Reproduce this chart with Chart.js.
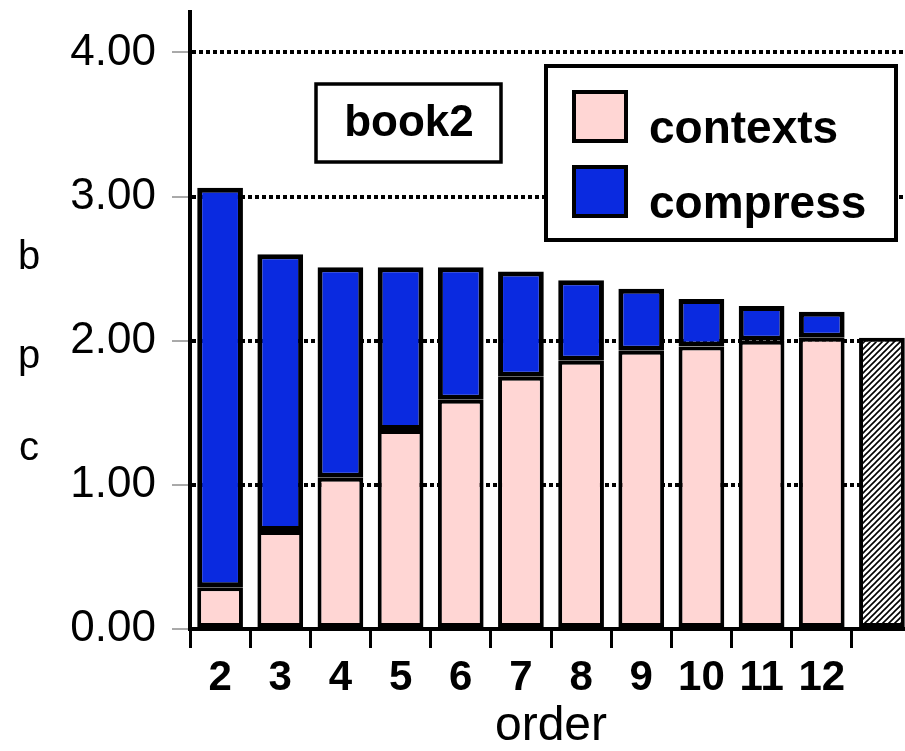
<!DOCTYPE html>
<html>
<head>
<meta charset="utf-8">
<script src="https://cdn.jsdelivr.net/npm/chart.js@4.4.1/dist/chart.umd.min.js"></script>
<style>
  html, body { margin: 0; padding: 0; background: #fff; overflow: hidden; }
  #wrap { width: 912px; height: 751px; }
</style>
</head>
<body>
<div id="wrap"><canvas id="bookChart"></canvas></div>
<script>
// data
const orders = ['2', '3', '4', '5', '6', '7', '8', '9', '10', '11', '12', ''];
const contexts = [0.29, 0.68, 1.05, 1.38, 1.59, 1.75, 1.86, 1.93, 1.96, 2.00, 2.02, null];
const compress = [2.77, 1.92, 1.46, 1.13, 0.92, 0.73, 0.56, 0.43, 0.33, 0.24, 0.18, null];
const reference = [null, null, null, null, null, null, null, null, null, null, null, 2.02];
const yTicks = [0, 1, 2, 3, 4];
const fileName = 'book2';

const pinkColor = '#ffd6d4';
const blueColor = '#0a2ae0';
const FONT = '"Liberation Sans", Arial, sans-serif';

// hatch pattern for the last bar
function makeHatch(){
	const c = document.createElement('canvas');
	c.width = 6; c.height = 6;
	const g = c.getContext('2d');
	g.fillStyle = '#fff';
	g.fillRect(0, 0, 6, 6);
	g.strokeStyle = '#000';
	g.lineWidth = 1.6;
	g.beginPath();
	g.moveTo(0, 6); g.lineTo(6, 0);
	g.moveTo(-2, 2); g.lineTo(2, -2);
	g.moveTo(4, 8); g.lineTo(8, 4);
	g.stroke();
	return g.createPattern(c, 'repeat');
}

// boxes, legend and the letter title
const extras = {
	id: 'extras',
	afterDraw(chart){
		const ctx = chart.ctx;
		ctx.save();
		// y title, one letter per line
		ctx.fillStyle = '#000';
		ctx.font = '40px ' + FONT;
		ctx.textAlign = 'center';
		ctx.textBaseline = 'middle';
		[['b', 258], ['p', 357], ['c', 449]].forEach(([t, y]) => ctx.fillText(t, 29, y));

		// file name box
		ctx.fillStyle = '#fff';
		ctx.fillRect(316, 84, 185, 78);
		ctx.lineWidth = 3.5;
		ctx.strokeStyle = '#000';
		ctx.strokeRect(316, 84, 185, 78);
		ctx.fillStyle = '#000';
		ctx.font = 'bold 44px ' + FONT;
		ctx.textBaseline = 'alphabetic';
		ctx.fillText(fileName, 409, 136);

		// legend
		ctx.fillStyle = '#fff';
		ctx.fillRect(546, 66, 350, 174);
		ctx.lineWidth = 4;
		ctx.strokeRect(546, 66, 350, 174);
		const ds = chart.data.datasets;
		[[ds[0], 92, 143], [ds[1], 167, 218]].forEach(([d, top, base]) => {
			ctx.fillStyle = d.backgroundColor;
			ctx.fillRect(574, top, 52, 49);
			ctx.lineWidth = 4;
			ctx.strokeStyle = '#000';
			ctx.strokeRect(574, top, 52, 49);
			ctx.fillStyle = '#000';
			ctx.font = 'bold 46px ' + FONT;
			ctx.textAlign = 'left';
			ctx.fillText(d.label, 649, base);
		});
		ctx.restore();
	}
};

const config = {
	type: 'bar',
	data: {
		labels: orders,
		datasets: [
			{label: 'contexts', data: contexts, backgroundColor: pinkColor, borderColor: '#000', borderWidth: 4, borderSkipped: false},
			{label: 'compress', data: compress, backgroundColor: blueColor, borderColor: '#000', borderWidth: 5, borderSkipped: false},
			{label: 'ref', data: reference, backgroundColor: makeHatch(), borderColor: '#000', borderWidth: 4, borderSkipped: false}
		]
	},
	options: {
		responsive: true,
		maintainAspectRatio: false,
		animation: false,
		layout: {padding: {top: 12, right: 0, left: 0, bottom: 0}},
		datasets: {bar: {barPercentage: 0.76, categoryPercentage: 1}},
		plugins: {legend: {display: false}, tooltip: {enabled: false}},
		scales: {
			x: {
				stacked: true,
				offset: true,
				grid: {offset: true, drawOnChartArea: false, drawTicks: true, tickLength: 19, tickWidth: 3, tickColor: '#000'},
				border: {display: true, color: '#000', width: 4},
				ticks: {color: '#000', padding: 5, font: {family: FONT, size: 42, weight: 'bold'}, maxRotation: 0, autoSkip: false},
				title: {display: true, text: 'order', color: '#000', padding: {top: 0, bottom: 0}, font: {family: FONT, size: 48, lineHeight: 1.0}},
				afterFit(s){ s.height = 122; s.paddingLeft = 0; s.paddingRight = 0; }
			},
			y: {
				stacked: true,
				min: 0,
				max: 4.28,
				afterBuildTicks(s){ s.ticks = yTicks.map(v => ({value: v})); },
				grid: {color: '#000', lineWidth: 4, drawTicks: true, tickLength: 18, tickWidth: 1, tickColor: '#555', tickBorderDash: []},
				border: {display: true, color: '#000', width: 4, dash: [4, 3]},
				ticks: {color: '#000', padding: 16, font: {family: FONT, size: 44}, callback: v => Number(v).toFixed(2)},
				afterFit(s){ s.width = 190; s.paddingTop = 0; s.paddingBottom = 0; }
			}
		}
	},
	plugins: [extras]
};

new Chart(document.getElementById('bookChart'), config);
</script>
</body>
</html>
